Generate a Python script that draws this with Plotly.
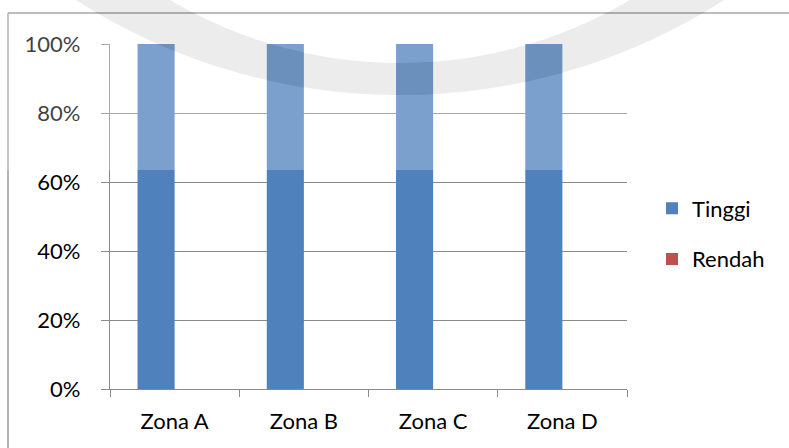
import numpy as np
import plotly.graph_objects as go

# Data
zones = ["Zona A", "Zona B", "Zona C", "Zona D"]
tinggi = [1.0, 1.0, 1.0, 1.0]
rendah = [0.0, 0.0, 0.0, 0.0]

W, H = 789, 448
ML, MR, MT, MB = 110, 162, 44, 59
PW, PH = W - ML - MR, H - MT - MB

FONT = "Lato"
GRID = "#8a8a8a"
TEXT = "#000000"


def px(x):
    return (x - ML) / PW


def py(y):
    return (H - MB - y) / PH


def arc(cx, cy, r, y_top, reverse=False, n=120):
    s = (y_top - cy) / r
    a0 = np.arcsin(s)
    phis = np.linspace(a0, np.pi - a0, n)
    if reverse:
        phis = phis[::-1]
    return [(cx + r * np.cos(p), cy + r * np.sin(p)) for p in phis]


def to_path(pts):
    coords = [f"{px(x):.5f},{py(y):.5f}" for x, y in pts]
    return "M" + " L".join(coords) + " Z"


fig = go.Figure()
fig.add_trace(go.Bar(x=zones, y=tinggi, name="Tinggi", marker_color="#4F81BD",
                     marker_line_width=0, legendgroup="a"))
fig.add_trace(go.Bar(x=zones, y=rendah, name="Rendah", marker_color="#C0504D",
                     marker_line_width=0, legendgroup="b"))

# outer chart frame
fig.add_shape(type="line", xref="paper", yref="paper", x0=px(8), x1=px(8), y0=py(13), y1=py(470),
              line=dict(color=GRID, width=1.3), layer="below")
fig.add_shape(type="line", xref="paper", yref="paper", x0=px(8), x1=px(820), y0=py(13), y1=py(13),
              line=dict(color=GRID, width=1.3), layer="below")

# faint background emblem: translucent band plus a light wash above it
ring = arc(400, -505, 600, -10) + arc(400, -387, 450, -10, reverse=True)
ring_path = to_path(ring)
wash_rect = to_path([(-10, -10), (800, -10), (800, 170), (-10, 170)])
fig.add_shape(type="path", xref="paper", yref="paper", path=wash_rect + " " + ring_path,
              fillcolor="rgba(255,255,255,0.25)", line_width=0, layer="above", fillrule="evenodd")
fig.add_shape(type="path", xref="paper", yref="paper", path=ring_path,
              fillcolor="rgba(184,184,184,0.27)", line_width=0, layer="above")

fig.update_layout(
    width=W, height=H,
    margin=dict(l=ML, r=MR, t=MT, b=MB, pad=0),
    paper_bgcolor="white", plot_bgcolor="white",
    barmode="group", bargap=0.426, bargroupgap=0,
    font=dict(family=FONT, size=22, color=TEXT),
    showlegend=True,
    legend=dict(x=px(652), xanchor="left", y=py(234), yanchor="middle",
                traceorder="grouped", tracegroupgap=19, itemwidth=30,
                font=dict(family=FONT, size=22, color=TEXT),
                bgcolor="rgba(0,0,0,0)"),
)
fig.update_xaxes(
    type="category", showgrid=False, zeroline=False,
    showline=True, linecolor=GRID, linewidth=1.3,
    ticks="outside", ticklen=7, tickcolor=GRID, tickwidth=1.3,
    tickson="boundaries", ticklabelstandoff=12,
)
fig.update_yaxes(
    range=[0, 1], dtick=0.2, tickformat=".0%",
    showgrid=True, gridcolor=GRID, gridwidth=1.3, zeroline=False,
    showline=True, linecolor=GRID, linewidth=1.3,
    ticks="outside", ticklen=8, tickcolor=GRID, tickwidth=1.3,
    ticklabelstandoff=16,
)

fig.write_html("out.html")
